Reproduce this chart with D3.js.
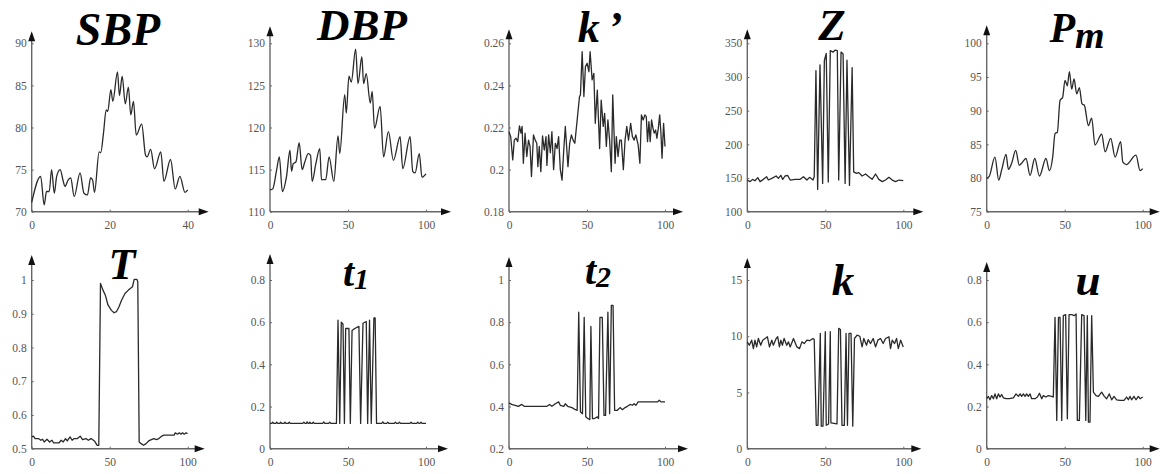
<!DOCTYPE html>
<html>
<head>
<meta charset="utf-8">
<script src="https://cdn.jsdelivr.net/npm/d3@7"></script>
<style>
body { margin: 0; background: #fff; }
svg { display: block; }
.tick text { font-family: "Liberation Serif", "DejaVu Serif", serif; font-size: 11.5px; fill: #555; }
.tick line { stroke: #666; }
.title { font-family: "Liberation Serif", "Times New Roman", serif; font-weight: bold; font-style: italic; fill: #000; }
</style>
</head>
<body>
<svg id="svg1" width="1160" height="474"></svg>
<script>
// series, [x, value]
var sbp = [[0,71.1],[2.3,74.2],[3.2,70.8],[3.8,72.4],[4.5,72.4],[5.1,75],[5.8,72.2],[6.4,74.2],[7.3,75],[8.1,73.6],[8.5,73],[9.4,73.8],[10,74],[10.9,71.8],[12.4,74.6],[13.4,72.2],[14.3,72],[15.1,74],[15.6,73.8],[16.1,72.3],[17.3,77.1],[17.7,77],[18.4,79.3],[19.1,82.1],[19.5,81.9],[20.3,84.5],[20.8,83.1],[22,86.6],[22.5,83.8],[23.2,86.1],[24,82.8],[24.8,84.8],[25.4,81.5],[26.1,83.1],[26.8,79.1],[28.2,80.4],[29.2,76.7],[29.6,76.5],[30.5,77.4],[31.5,75.1],[33.1,77.1],[33.9,73.6],[35.6,76.2],[36.8,72.7],[38,74.2],[39.3,72.3],[40,72.6]];
var dbp = [[0,112.6],[1.7,112.7],[4.3,115],[6,116.5],[7.9,112.4],[10.6,114.2],[12.8,117.3],[13.8,114.8],[14.9,115.7],[16.6,115.9],[18.7,118.2],[20.6,115],[22.3,115.9],[24.5,116.9],[26,116.7],[27,113.6],[29.4,115.7],[31.9,117.5],[33,113.8],[35.7,113.8],[37.9,116.5],[40.9,113.6],[43.6,119],[44.7,116.9],[47.9,123.9],[48.9,121.7],[50.6,126.1],[52.1,125.4],[54.9,129.3],[56.4,125.2],[58.9,128.4],[60,125.2],[61.7,126.4],[64.3,122.9],[65.5,124.3],[67,119.9],[70.6,122.5],[72.8,116.5],[75.9,119.5],[79.1,116.1],[83.4,118.9],[85.1,115.1],[89.8,118.9],[91.5,114.8],[93,114.6],[95.7,116.9],[97.4,114.1],[100,114.5]];
var kPrime = [[0,.218],[1.1,.2156],[2.4,.2046],[3.4,.214],[4.5,.2149],[5.6,.2133],[6.7,.2208],[7.7,.2173],[8.4,.2205],[9.2,.203],[10.3,.2173],[11.4,.2062],[12.5,.214],[13.5,.211],[14.4,.1967],[15.7,.2165],[16.8,.214],[17.8,.2125],[18.5,.2014],[19.4,.211],[20.4,.199],[21.5,.216],[22.6,.2093],[23.7,.2157],[24.3,.202],[25.4,.2165],[26.5,.208],[27.5,.218],[28.6,.2],[29.7,.2125],[30.8,.21],[31.8,.2157],[32.9,.2],[34,.195],[35.1,.2093],[36.1,.2205],[37.2,.208],[37.8,.2014],[38.9,.2125],[40,.2165],[41.1,.214],[42.2,.2125],[43.7,.2236],[45.2,.2347],[45.8,.2355],[46.9,.256],[48,.2347],[49,.2489],[50.1,.2505],[51.2,.2465],[52,.256],[53.3,.2426],[54.4,.2457],[55.3,.222],[56.6,.2378],[58.1,.21],[59.1,.233],[60.4,.2205],[61.3,.2267],[62.4,.211],[63.4,.2236],[64.5,.214],[65.6,.199],[66.5,.2355],[68,.203],[68.8,.2157],[69.9,.2062],[71,.214],[72,.214],[73.3,.2],[74.4,.214],[75.5,.2205],[76.6,.214],[78,.222],[79.1,.2157],[80.2,.214],[81.3,.2165],[82.8,.2117],[83.9,.203],[84.9,.226],[86,.2236],[87.1,.226],[88,.2252],[88.8,.2133],[89.7,.2228],[90.5,.2133],[91.4,.2236],[92.3,.2196],[93.1,.2173],[94,.2188],[94.8,.2149],[95.7,.2196],[96.6,.226],[97.4,.2173],[98.1,.2054],[99.1,.222],[100,.211]];
var zData = [[0,147],[1.7,144.6],[3.4,148],[4.9,146],[6.7,150.5],[8.2,144.6],[10.3,148],[12.4,152],[13.5,147],[15.7,149.5],[18.5,153],[19.9,149.5],[21.5,154],[22.7,148],[24.2,153],[25.8,154],[27.5,147],[30.7,148],[33.9,148],[36,152],[38.2,147],[39.9,151],[42.1,147],[42.9,152],[44,309.5],[45.1,133],[46.6,318],[48.3,142],[49.4,324.5],[50.6,335],[51.9,144],[53.2,339],[55,337],[56.4,340],[57.7,339],[58.6,147],[60.1,337],[61.4,334],[62.7,142],[63.9,325],[65.5,139],[67.2,314],[68.2,159],[70,157],[71.5,158],[73.6,153],[75.8,156],[77.9,152],[80,148],[82.2,156],[84.3,148],[86.5,144.6],[88.6,147],[90.8,151],[92.9,147],[95.1,144.6],[97.2,147],[100,146]];
var pm = [[0,80],[1.5,80.2],[5.3,83.1],[7.7,79.7],[9.6,81.2],[12.4,83.5],[13.9,81.3],[16,82.2],[18.6,84.1],[20.9,81.9],[22.4,82.2],[25.2,82.9],[27.8,80.4],[30.8,82.9],[33.8,80.3],[38,82.9],[40.2,81.1],[42.3,83.1],[43.8,86.6],[45.3,86.8],[47,91.5],[48.7,92],[50.2,94.5],[51.7,93.7],[53,95.8],[54.5,93.2],[56,94.7],[57.7,92.5],[59.4,93.4],[61.1,91],[62.6,90.8],[65.2,87.8],[67.3,88.9],[69.4,84.9],[73.7,86.5],[75.9,83.9],[79.5,85.9],[82.3,83.1],[85.9,85.4],[87.2,82.4],[89.5,82],[95.7,83.4],[98.3,81.1],[100,81.4]];
var tData = [[0,.535],[1.1,.537],[2.2,.53],[4.3,.53],[5.9,.525],[7,.528],[8,.52],[9.8,.528],[11.5,.52],[13,.525],[14.1,.517],[17.4,.517],[18.9,.525],[20.2,.52],[21.7,.53],[22.8,.523],[24.6,.535],[25.9,.525],[27.2,.53],[29.3,.53],[31.1,.537],[32.6,.527],[34.8,.53],[36.3,.525],[38,.53],[40.2,.523],[42,.51],[43,.51],[44.1,.99],[45.7,.97],[47.2,.955],[48.9,.926],[51.1,.91],[52.8,.903],[54.3,.906],[55.9,.92],[57.6,.94],[59.8,.96],[62,.97],[64.6,.98],[65.7,1.002],[67.4,1.002],[68,.995],[68.9,.52],[70.2,.515],[71.7,.51],[73.3,.515],[75,.523],[76.7,.527],[78.3,.53],[80,.527],[81.5,.53],[83.3,.537],[84.8,.54],[91.3,.54],[92,.547],[93.5,.543],[94.6,.547],[95.7,.543],[96.7,.547],[97.8,.543],[98.9,.547],[100,.545]];
var t1 = [[0,.12],[1.2,.12],[1.7,.126],[2.4,.12],[3.8,.12],[4.3,.126],[5,.12],[6.3,.12],[6.8,.126],[7.4,.12],[9,.12],[9.6,.126],[10.2,.12],[11.7,.12],[12.3,.126],[12.9,.12],[21,.12],[21.7,.126],[22.4,.12],[23.2,.12],[23.8,.127],[24.4,.12],[25,.12],[25.5,.126],[26.1,.12],[27.1,.12],[27.7,.126],[28.3,.12],[33.8,.12],[34.5,.127],[35.2,.12],[37.6,.12],[38.3,.126],[39,.12],[42.6,.12],[43.6,.61],[44.7,.12],[45.7,.6],[46.8,.59],[47.7,.12],[48.5,.57],[50.6,.57],[51.5,.12],[52.6,.56],[54.3,.57],[57,.58],[58.1,.12],[59.6,.595],[61.7,.603],[62.6,.12],[63.8,.61],[64.9,.12],[66.6,.62],[67.4,.62],[68.3,.12],[71.6,.12],[72.3,.127],[73,.12],[74.8,.12],[75.5,.126],[76.2,.12],[79.7,.12],[80.4,.126],[81.1,.12],[82.3,.12],[83,.126],[83.7,.12],[89.7,.12],[90.4,.126],[91.1,.12],[94,.12],[94.7,.126],[95.4,.12],[96.1,.12],[96.8,.126],[97.5,.12],[100,.12]];
var t2 = [[0,.417],[1.7,.41],[3.9,.406],[6,.401],[8.2,.41],[9.7,.401],[24.3,.401],[26,.41],[27.5,.401],[29.7,.413],[31.8,.422],[32.9,.406],[35.1,.401],[36.1,.413],[37.6,.401],[40.4,.395],[42.6,.385],[43.7,.382],[44.7,.847],[45.8,.374],[47.1,.366],[48.2,.823],[49.2,.351],[50.5,.343],[51.8,.338],[52.5,.78],[53.5,.343],[54.8,.343],[56.6,.351],[57.4,.343],[58.3,.823],[59.8,.823],[60.9,.358],[61.9,.358],[63.4,.847],[64.5,.366],[65.6,.88],[66.7,.88],[67.7,.382],[69.5,.382],[71.2,.395],[72.7,.385],[74.4,.395],[75.9,.401],[77.6,.41],[79.1,.406],[80.2,.413],[81.3,.406],[82.8,.422],[95.3,.422],[96.3,.43],[97.4,.422],[100,.422]];
var kData = [[0,9.5],[1.3,9.2],[2.8,9.65],[3.9,8.9],[4.9,9.65],[6,9.05],[7.1,9.8],[8.6,9.2],[9.9,9.65],[11.4,9.8],[12.9,9.95],[14.2,9.05],[15.7,9.65],[16.7,9.2],[18.5,9.8],[19.5,9.95],[20.6,9.05],[21.5,9.65],[22.5,9.2],[23.6,9.8],[25.3,9.2],[26.4,9.5],[27.5,9.05],[29.6,9.8],[31.8,9.05],[33.5,8.9],[35,9.5],[36.5,9.35],[38.2,9.65],[39.9,9.6],[42.1,9.8],[42.9,9.7],[44.2,2.08],[45.3,2.08],[46.8,10.25],[47.4,2],[48.5,2],[50,10.4],[50.6,2.08],[52.1,2.2],[53.2,10.4],[53.6,2.3],[57.5,2.2],[58.6,10.7],[59.7,10.6],[60.7,2.08],[62.2,2.08],[63.3,10.25],[64.2,2.08],[65.2,10.25],[66.5,10.25],[67.6,2],[68.7,9.8],[70.4,10.1],[72.1,10],[73.6,9.05],[74.7,9.8],[76.4,9.2],[77.5,9.7],[79,9.35],[80.7,9.8],[82.2,9.05],[83.7,9.65],[85.4,9.8],[87.1,9.35],[88.6,9.8],[90.8,9.95],[91.8,8.9],[92.9,9.65],[94.4,9.35],[95.7,9.8],[96.8,8.9],[98.3,9.65],[100,9.05]];
var uData = [[0,.237],[1.1,.248],[2.1,.232],[3.2,.252],[4.3,.237],[5.3,.26],[6.4,.237],[7.5,.26],[8.5,.245],[9.6,.257],[10.7,.241],[12.4,.237],[14.5,.237],[17.1,.241],[18.8,.26],[20.3,.248],[21.4,.26],[22.4,.248],[23.5,.26],[24.6,.248],[25.6,.26],[26.7,.248],[27.8,.26],[28.8,.237],[31,.237],[32.5,.245],[33.8,.263],[35.3,.237],[36.3,.252],[38,.245],[39.5,.252],[41.7,.248],[42.7,.245],[43.8,.623],[44.9,.134],[46,.623],[47,.623],[48.1,.134],[49.1,.631],[50.6,.636],[51.7,.142],[52.8,.636],[54.5,.636],[56.2,.631],[57.3,.639],[58.1,.134],[59.4,.134],[60.9,.636],[62.4,.631],[63.5,.134],[64.5,.631],[65.2,.126],[66.2,.126],[67.3,.631],[68.4,.268],[70.1,.252],[71.6,.248],[73.7,.268],[75.4,.248],[76.9,.237],[78.6,.26],[80.1,.232],[81.6,.248],[83.3,.232],[85.5,.229],[88,.229],[89.7,.245],[90.8,.232],[91.9,.248],[92.9,.232],[94.4,.248],[95.7,.232],[97.2,.248],[98.3,.237],[100,.245]];

// tick values
var ticks100 = [0, 50, 100];
var sbpTicks = [70, 75, 80, 85, 90];
var dbpTicks = [110, 115, 120, 125, 130];
var kPrimeTicks = [0.18, 0.2, 0.22, 0.24, 0.26];
var zTicks = [100, 150, 200, 250, 300, 350];
var pmTicks = [75, 80, 85, 90, 95, 100];
var tTicks = [0.5, 0.6, 0.7, 0.8, 0.9, 1];
var t1Ticks = [0, 0.2, 0.4, 0.6, 0.8];
var t2Ticks = [0.2, 0.4, 0.6, 0.8, 1];
var kTicks = [0, 5, 10, 15];
var uTicks = [0, 0.2, 0.4, 0.6, 0.8];

// layout
var colX = [31.7, 270, 509, 747.3, 986.7];
var rowY = [[43.3, 211.7], [280, 448.7]];
var plotW = 156;

var panels = [
  {data: sbp, xDom: [0, 40], xTicks: [0, 20, 40], yTicks: sbpTicks, col: 0, row: 0, smooth: true,
   title: [{s: 'SBP', fs: 46}], tx: 118, ty: 45, up: 12, right: 21},
  {data: dbp, xDom: [0, 100], xTicks: ticks100, yTicks: dbpTicks, col: 1, row: 0, smooth: true,
   title: [{s: 'DBP', fs: 45}], tx: 362, ty: 40, up: 17, right: 25},
  {data: kPrime, xDom: [0, 100], xTicks: ticks100, yTicks: kPrimeTicks, col: 2, row: 0,
   title: [{s: 'k', fs: 44}, {s: '\u2019', fs: 44, dx: 8}], tx: 600, ty: 41.7, up: 14, right: 18},
  {data: zData, xDom: [0, 100], xTicks: ticks100, yTicks: zTicks, col: 3, row: 0,
   title: [{s: 'Z', fs: 45}], tx: 832, ty: 40, up: 14, right: 20},
  {data: pm, xDom: [0, 100], xTicks: ticks100, yTicks: pmTicks, col: 4, row: 0, smooth: true,
   title: [{s: 'P', fs: 42}, {s: 'm', fs: 38, dy: 6}], tx: 1077, ty: 41.7, up: 18, right: 17},
  {data: tData, xDom: [0, 100], xTicks: ticks100, yTicks: tTicks, col: 0, row: 1,
   title: [{s: 'T', fs: 44}], tx: 122, ty: 279, up: 25, right: 17},
  {data: t1, xDom: [0, 100], xTicks: ticks100, yTicks: t1Ticks, col: 1, row: 1,
   title: [{s: 't', fs: 40}, {s: '1', fs: 30, dy: 3}], tx: 356, ty: 286, up: 26, right: 22},
  {data: t2, xDom: [0, 100], xTicks: ticks100, yTicks: t2Ticks, col: 2, row: 1,
   title: [{s: 't', fs: 40}, {s: '2', fs: 30, dy: 3}], tx: 598, ty: 284, up: 23, right: 23},
  {data: kData, xDom: [0, 100], xTicks: ticks100, yTicks: kTicks, col: 3, row: 1,
   title: [{s: 'k', fs: 45}], tx: 843, ty: 295, up: 22, right: 18},
  {data: uData, xDom: [0, 100], xTicks: ticks100, yTicks: uTicks, col: 4, row: 1,
   title: [{s: 'u', fs: 45}], tx: 1088, ty: 295, up: 18, right: 17}
];

var svg = d3.select('#svg1');

panels.forEach(function(p) {
  var x0 = colX[p.col];
  var yTop = rowY[p.row][0], yBot = rowY[p.row][1];
  var yDom = [p.yTicks[0], p.yTicks[p.yTicks.length - 1]];

  var scaleX = d3.scaleLinear().domain(p.xDom).range([x0, x0 + plotW]);
  var scaleY = d3.scaleLinear().domain(yDom).range([yBot, yTop]);

  var g = svg.append('g');

  g.append('g')
    .attr('transform', 'translate(0,' + yBot + ')')
    .call(d3.axisBottom(scaleX).tickValues(p.xTicks).tickSize(-2).tickPadding(9).tickFormat(String))
    .call(function(a) { a.select('.domain').remove(); });

  g.append('g')
    .attr('transform', 'translate(' + x0 + ',0)')
    .call(d3.axisLeft(scaleY).tickValues(p.yTicks).tickSize(-2).tickPadding(5).tickFormat(String))
    .call(function(a) { a.select('.domain').remove(); });

  // axis lines with arrow heads
  var xEnd = x0 + plotW + p.right, yEnd = yTop - p.up;
  g.append('line').attr('x1', x0).attr('y1', yBot).attr('x2', xEnd - 4).attr('y2', yBot)
    .attr('stroke', '#666').attr('stroke-width', 1.4);
  g.append('line').attr('x1', x0).attr('y1', yBot).attr('x2', x0).attr('y2', yEnd + 4)
    .attr('stroke', '#666').attr('stroke-width', 1.4);
  g.append('path')
    .attr('d', 'M' + xEnd + ',' + yBot + 'L' + (xEnd - 10) + ',' + (yBot - 3.5) + 'L' + (xEnd - 10) + ',' + (yBot + 3.5) + 'Z')
    .attr('fill', '#111');
  g.append('path')
    .attr('d', 'M' + x0 + ',' + yEnd + 'L' + (x0 - 3.5) + ',' + (yEnd + 10) + 'L' + (x0 + 3.5) + ',' + (yEnd + 10) + 'Z')
    .attr('fill', '#111');

  var line = d3.line()
    .x(function(d) { return scaleX(d[0]); })
    .y(function(d) { return scaleY(d[1]); })
    .curve(p.smooth ? d3.curveMonotoneX : d3.curveLinear);

  g.append('path')
    .datum(p.data)
    .attr('d', line)
    .attr('fill', 'none')
    .attr('stroke', '#2a2a2a')
    .attr('stroke-width', 1.3)
    .attr('stroke-linejoin', 'round');

  var title = g.append('text')
    .attr('class', 'title')
    .attr('x', p.tx).attr('y', p.ty)
    .attr('text-anchor', 'middle');
  p.title.forEach(function(t) {
    title.append('tspan')
      .attr('font-size', t.fs)
      .attr('dx', t.dx || 0)
      .attr('dy', t.dy || 0)
      .text(t.s);
  });
});
</script>
</body>
</html>
